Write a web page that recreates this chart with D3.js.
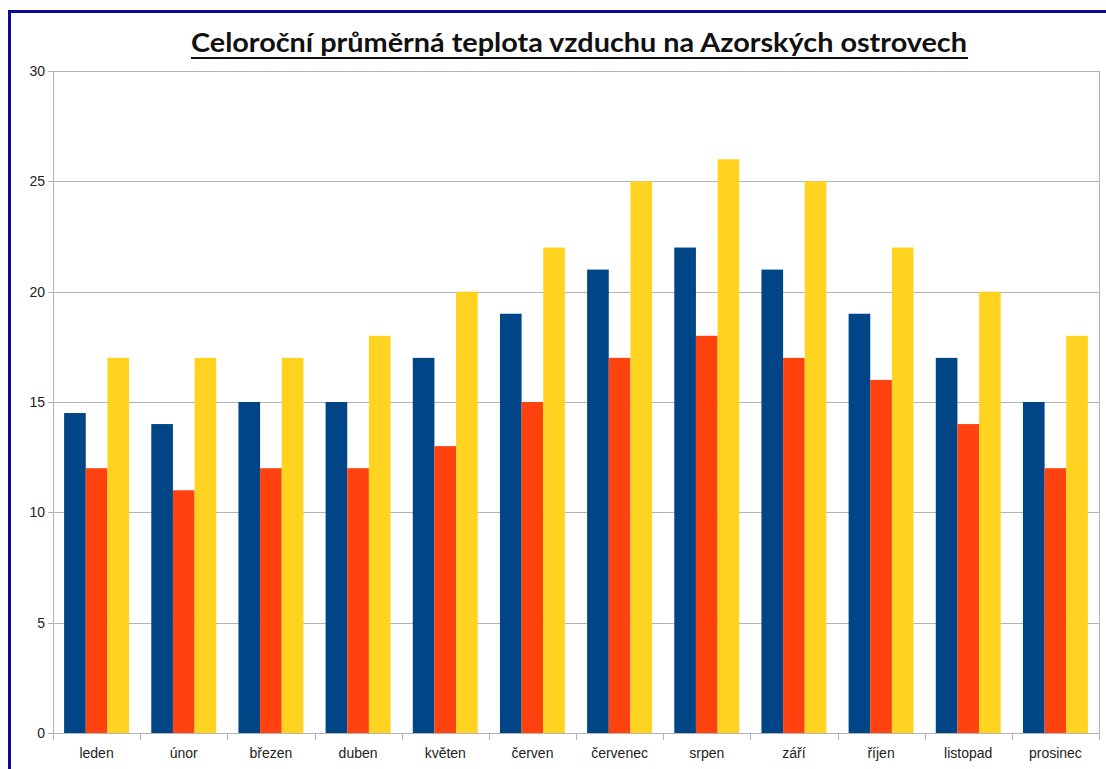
<!DOCTYPE html>
<html>
<head>
<meta charset="utf-8">
<script src="https://cdn.jsdelivr.net/npm/d3@7"></script>
<style>
  html, body { margin: 0; padding: 0; background: #fff; }
  svg { display: block; }
</style>
</head>
<body>
<div id="chart"></div>
<script>
// data
const months = ['leden', 'únor', 'březen', 'duben', 'květen', 'červen', 'červenec', 'srpen', 'září', 'říjen', 'listopad', 'prosinec'];
const seriesA = [14.5, 14, 15, 15, 17, 19, 21, 22, 21, 19, 17, 15];
const seriesB = [12, 11, 12, 12, 13, 15, 17, 18, 17, 16, 14, 12];
const seriesC = [17, 17, 17, 18, 20, 22, 25, 26, 25, 22, 20, 18];
const yTicks = [0, 5, 10, 15, 20, 25, 30];
const seriesColors = ['#004586', '#ff420e', '#ffd320'];
const title = 'Celoroční průměrná teplota vzduchu na Azorských ostrovech';

const width = 1106;
const height = 769;
const plot = { left: 53, right: 1099, top: 71, bottom: 733 };

const svg = d3.select('#chart').append('svg')
  .attr('width', width)
  .attr('height', height);

// outer blue frame
svg.append('rect')
  .attr('x', 9.5).attr('y', 11.5)
  .attr('width', width).attr('height', height)
  .attr('fill', 'none')
  .attr('stroke', '#0a0a96')
  .attr('stroke-width', 3);

// title
const titleText = svg.append('text')
  .attr('x', 579).attr('y', 52)
  .attr('text-anchor', 'middle')
  .attr('font-family', 'Lato, "Open Sans", sans-serif')
  .attr('font-weight', 'bold')
  .attr('font-size', 27)
  .attr('fill', '#111')
  .attr('textLength', 776)
  .attr('lengthAdjust', 'spacingAndGlyphs')
  .text(title);
svg.append('line')
  .attr('x1', 191).attr('x2', 968)
  .attr('y1', 58).attr('y2', 58)
  .attr('stroke', '#111').attr('stroke-width', 2);

// scales
const x0 = d3.scaleBand().domain(months).range([plot.left, plot.right]).paddingInner(0.255).paddingOuter(0.1275);
const x1 = d3.scaleBand().domain([0, 1, 2]).range([0, x0.bandwidth()]);
const y = d3.scaleLinear().domain([0, 30]).range([plot.bottom, plot.top]);

// gridlines
svg.append('g')
  .selectAll('line')
  .data(yTicks)
  .join('line')
  .attr('x1', plot.left - 5).attr('x2', plot.right)
  .attr('y1', (d) => Math.round(y(d)) + 0.5).attr('y2', (d) => Math.round(y(d)) + 0.5)
  .attr('stroke', '#b3b3b3');

// plot frame sides
svg.append('line').attr('x1', plot.left + 0.5).attr('x2', plot.left + 0.5)
  .attr('y1', plot.top).attr('y2', plot.bottom).attr('stroke', '#b3b3b3');
svg.append('line').attr('x1', plot.right + 0.5).attr('x2', plot.right + 0.5)
  .attr('y1', plot.top).attr('y2', plot.bottom).attr('stroke', '#b3b3b3');

// y tick labels
svg.append('g')
  .selectAll('text')
  .data(yTicks)
  .join('text')
  .attr('x', plot.left - 8)
  .attr('y', (d) => y(d) + 5)
  .attr('text-anchor', 'end')
  .attr('font-family', '"Liberation Sans", Arial, sans-serif')
  .attr('font-size', 14)
  .attr('fill', '#222')
  .text((d) => d);

// bars
const rows = months.map((m, i) => ({ month: m, values: [seriesA[i], seriesB[i], seriesC[i]] }));
const groups = svg.append('g')
  .selectAll('g')
  .data(rows)
  .join('g')
  .attr('transform', (d) => `translate(${x0(d.month)},0)`);

groups.selectAll('rect')
  .data((d) => d.values.map((v, k) => ({ k, v })))
  .join('rect')
  .attr('x', (d) => x1(d.k))
  .attr('width', x1.bandwidth())
  .attr('y', (d) => y(d.v))
  .attr('height', (d) => y(0) - y(d.v))
  .attr('fill', (d) => seriesColors[d.k]);

// x axis line and category ticks
const step = (plot.right - plot.left) / months.length;
svg.append('line').attr('x1', plot.left).attr('x2', plot.right)
  .attr('y1', plot.bottom + 0.5).attr('y2', plot.bottom + 0.5).attr('stroke', '#b3b3b3');
svg.append('g')
  .selectAll('line')
  .data(d3.range(months.length + 1))
  .join('line')
  .attr('x1', (i) => Math.round(plot.left + i * step) + 0.5)
  .attr('x2', (i) => Math.round(plot.left + i * step) + 0.5)
  .attr('y1', plot.bottom).attr('y2', plot.bottom + 7)
  .attr('stroke', '#b3b3b3');

// x labels
svg.append('g')
  .selectAll('text')
  .data(months)
  .join('text')
  .attr('x', (d) => x0(d) + x0.bandwidth() / 2)
  .attr('y', 758)
  .attr('text-anchor', 'middle')
  .attr('font-family', '"Liberation Sans", Arial, sans-serif')
  .attr('font-size', 14)
  .attr('fill', '#222')
  .text((d) => d);
</script>
</body>
</html>
